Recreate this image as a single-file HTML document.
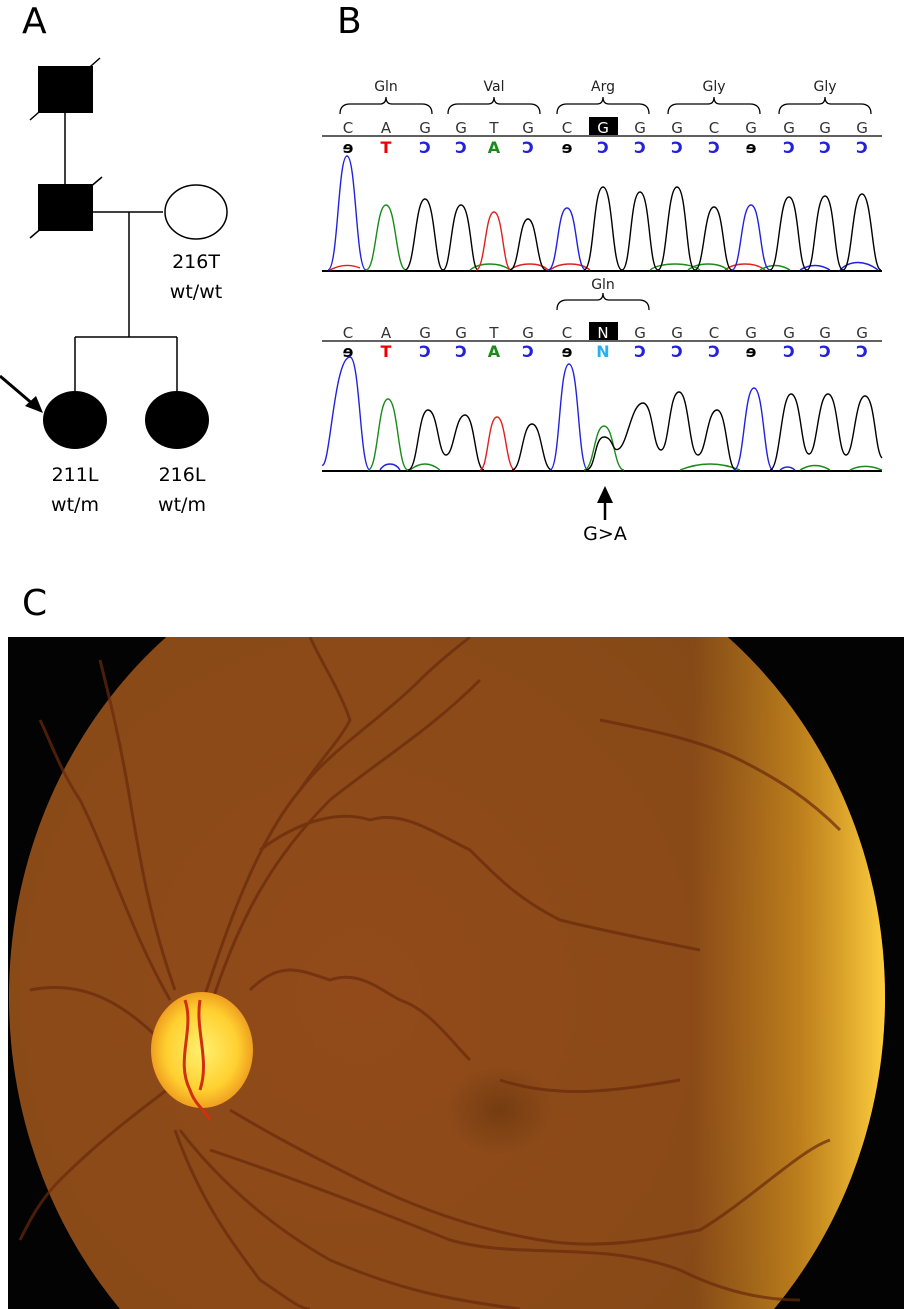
<!DOCTYPE html>
<html><head><meta charset="utf-8"><style>
html,body{margin:0;padding:0;background:#fff;overflow:hidden;width:904px;height:1309px;}
svg{display:block}
text{font-family:"DejaVu Sans","Liberation Sans",sans-serif;}
</style></head><body>
<svg width="904" height="1309" viewBox="0 0 904 1309" xmlns="http://www.w3.org/2000/svg">
<defs>
<radialGradient id="fg" cx="0.4" cy="0.5" r="0.7">
<stop offset="0" stop-color="#924a1a"/>
<stop offset="0.6" stop-color="#8a4a18"/>
<stop offset="1" stop-color="#7a4814"/>
</radialGradient>
<linearGradient id="rim" x1="0" y1="0" x2="1" y2="0">
<stop offset="0.78" stop-color="#d89a20" stop-opacity="0"/>
<stop offset="0.9" stop-color="#e0a020" stop-opacity="0.6"/>
<stop offset="1" stop-color="#ffd040" stop-opacity="1"/>
</linearGradient>
<radialGradient id="disc" cx="0.5" cy="0.5" r="0.5">
<stop offset="0" stop-color="#fff070"/>
<stop offset="0.7" stop-color="#ffd030"/>
<stop offset="1" stop-color="#f0a020"/>
</radialGradient>
<radialGradient id="fov" cx="0.5" cy="0.5" r="0.5">
<stop offset="0" stop-color="#5a3008" stop-opacity="0.5"/>
<stop offset="1" stop-color="#5a3008" stop-opacity="0"/>
</radialGradient>
<clipPath id="cc"><rect x="8" y="637" width="896" height="672"/></clipPath>
</defs>

<text x="22" y="33" font-size="36" font-family="Liberation Sans">A</text>
<text x="337" y="33" font-size="36" font-family="Liberation Sans">B</text>
<text x="22" y="615" font-size="36" font-family="Liberation Sans">C</text>

<g stroke="#000" stroke-width="1.5" fill="none">
<line x1="65" y1="110" x2="65" y2="184"/>
<line x1="92" y1="212" x2="163" y2="212"/>
<line x1="129" y1="212" x2="129" y2="337"/>
<line x1="75" y1="337" x2="177" y2="337"/>
<line x1="75" y1="337" x2="75" y2="391"/>
<line x1="177" y1="337" x2="177" y2="391"/>
<line x1="30" y1="120" x2="100" y2="58"/>
<line x1="30" y1="238" x2="102" y2="177"/>
<ellipse cx="196" cy="212" rx="31" ry="27"/>
</g>
<rect x="38" y="66" width="55" height="47" fill="#000"/>
<rect x="38" y="184" width="55" height="47" fill="#000"/>
<ellipse cx="75" cy="420" rx="32" ry="29" fill="#000"/>
<ellipse cx="177" cy="420" rx="32" ry="29" fill="#000"/>
<line x1="0" y1="376" x2="34" y2="405" stroke="#000" stroke-width="3"/>
<polygon points="43,413 25,406 36,396" fill="#000"/>
<g font-size="19" text-anchor="middle">
<text x="196" y="268">216T</text>
<text x="196" y="298">wt/wt</text>
<text x="75" y="481">211L</text>
<text x="75" y="511">wt/m</text>
<text x="182" y="481">216L</text>
<text x="182" y="511">wt/m</text>
</g>

<g font-size="14" text-anchor="middle" fill="#222">
<text x="386" y="91">Gln</text><text x="494" y="91">Val</text><text x="603" y="91">Arg</text><text x="714" y="91">Gly</text><text x="825" y="91">Gly</text>
</g>
<g stroke="#000" stroke-width="1.3" fill="none">
<path d="M340,114 Q340,104 350,104 L380,104 Q386,104 386,97 Q386,104 392,104 L422,104 Q432,104 432,114"/>
<path d="M448,114 Q448,104 458,104 L488,104 Q494,104 494,97 Q494,104 500,104 L530,104 Q540,104 540,114"/>
<path d="M557,114 Q557,104 567,104 L597,104 Q603,104 603,97 Q603,104 609,104 L639,104 Q649,104 649,114"/>
<path d="M668,114 Q668,104 678,104 L708,104 Q714,104 714,97 Q714,104 720,104 L750,104 Q760,104 760,114"/>
<path d="M779,114 Q779,104 789,104 L819,104 Q825,104 825,97 Q825,104 831,104 L861,104 Q871,104 871,114"/>
<line x1="322" y1="136" x2="882" y2="136"/>
<line x1="322" y1="341" x2="882" y2="341"/>
<path d="M557,310 Q557,300 567,300 L597,300 Q603,300 603,293 Q603,300 609,300 L639,300 Q649,300 649,310"/>
</g>
<rect x="589" y="117" width="29" height="18" fill="#000"/>
<rect x="589" y="322" width="29" height="18" fill="#000"/>
<g font-size="15" text-anchor="middle" fill="#333">
<text x="348" y="133">C</text><text x="386" y="133">A</text><text x="425" y="133">G</text><text x="461" y="133">G</text><text x="494" y="133">T</text><text x="528" y="133">G</text><text x="567" y="133">C</text><text x="603" y="133" fill="#fff">G</text><text x="640" y="133">G</text><text x="677" y="133">G</text><text x="714" y="133">C</text><text x="751" y="133">G</text><text x="789" y="133">G</text><text x="825" y="133">G</text><text x="862" y="133">G</text>
<text x="603" y="289" fill="#222" font-size="14">Gln</text>
<text x="348" y="338">C</text><text x="386" y="338">A</text><text x="425" y="338">G</text><text x="461" y="338">G</text><text x="494" y="338">T</text><text x="528" y="338">G</text><text x="567" y="338">C</text><text x="603" y="338" fill="#fff">N</text><text x="640" y="338">G</text><text x="677" y="338">G</text><text x="714" y="338">C</text><text x="751" y="338">G</text><text x="789" y="338">G</text><text x="825" y="338">G</text><text x="862" y="338">G</text>
</g>
<g font-size="16" font-weight="bold" text-anchor="middle">
<text x="348" y="153" fill="#000">ɘ</text><text x="386" y="153" fill="#e00">T</text><text x="425" y="153" fill="#22d">Ɔ</text><text x="461" y="153" fill="#22d">Ɔ</text><text x="494" y="153" fill="#1a8a1a">A</text><text x="528" y="153" fill="#22d">Ɔ</text><text x="567" y="153" fill="#000">ɘ</text><text x="603" y="153" fill="#22d">Ɔ</text><text x="640" y="153" fill="#22d">Ɔ</text><text x="677" y="153" fill="#22d">Ɔ</text><text x="714" y="153" fill="#22d">Ɔ</text><text x="751" y="153" fill="#000">ɘ</text><text x="789" y="153" fill="#22d">Ɔ</text><text x="825" y="153" fill="#22d">Ɔ</text><text x="862" y="153" fill="#22d">Ɔ</text>
<text x="348" y="357" fill="#000">ɘ</text><text x="386" y="357" fill="#e00">T</text><text x="425" y="357" fill="#22d">Ɔ</text><text x="461" y="357" fill="#22d">Ɔ</text><text x="494" y="357" fill="#1a8a1a">A</text><text x="528" y="357" fill="#22d">Ɔ</text><text x="567" y="357" fill="#000">ɘ</text><text x="603" y="357" fill="#2ab0f0">N</text><text x="640" y="357" fill="#22d">Ɔ</text><text x="677" y="357" fill="#22d">Ɔ</text><text x="714" y="357" fill="#22d">Ɔ</text><text x="751" y="357" fill="#000">ɘ</text><text x="789" y="357" fill="#22d">Ɔ</text><text x="825" y="357" fill="#22d">Ɔ</text><text x="862" y="357" fill="#22d">Ɔ</text>
</g>

<g fill="none" stroke-width="1.4">
<line x1="322" y1="271" x2="882" y2="271" stroke="#000" stroke-width="2"/>
<path stroke="#e02020" d="M330,270 Q345,262 360,268 M510,270 C520,262 540,262 548,270 M550,270 C560,262 580,262 590,270 M725,270 C735,262 755,262 765,270"/>
<path stroke="#1a8a1a" d="M470,270 C480,262 500,262 510,270 M650,270 C660,262 690,262 700,270 M688,270 C698,262 718,262 728,270 M760,270 C770,264 780,264 790,270"/>
<path stroke="#22d" d="M800,270 C810,264 820,264 830,270 M840,270 C850,260 865,260 878,270"/>
<path stroke="#22d" d="M328,270 C338,270 338,156 347,156 C356,156 356,270 366,270"/>
<path stroke="#1a8a1a" d="M366,270 C376,270 376,205 386,205 C396,205 396,270 406,270"/>
<path stroke="#000" d="M405,270 C415,270 415,199 425,199 C435,199 435,270 443,270 C451,270 451,205 461,205 C471,205 471,270 478,270"/>
<path stroke="#e02020" d="M476,270 C485,270 485,212 494,212 C503,212 503,270 511,270"/>
<path stroke="#000" d="M510,270 C519,270 519,219 528,219 C537,219 537,270 546,270"/>
<path stroke="#22d" d="M548,270 C558,270 557,208 567,208 C577,208 576,270 586,270"/>
<path stroke="#000" d="M584,270 C594,270 593,187 603,187 C613,187 612,270 622,270 C631,270 630,192 640,192 C650,192 649,270 658,270 C667,270 667,187 677,187 C687,187 686,270 695,270 C704,270 704,207 714,207 C724,207 723,270 732,270"/>
<path stroke="#22d" d="M732,270 C741,270 741,205 751,205 C761,205 760,270 770,270"/>
<path stroke="#000" d="M770,270 C779,270 779,197 789,197 C799,197 798,270 807,270 C815,270 815,196 825,196 C835,196 834,270 843,270 C852,270 852,194 862,194 C872,194 872,270 881,270"/>
</g>

<g fill="none" stroke-width="1.4">
<line x1="322" y1="471" x2="882" y2="471" stroke="#000" stroke-width="2"/>
<path stroke="#1a8a1a" d="M410,470 C420,462 430,462 440,470 M680,470 C700,462 720,462 740,470 M800,470 C810,464 820,464 830,470 M850,470 C860,465 870,465 882,470"/>
<path stroke="#22d" d="M380,470 C385,462 395,462 400,470 M780,470 C785,466 790,466 795,470"/>
<path stroke="#22d" d="M322,465 C330,470 334,357 350,357 C360,357 360,470 370,470"/>
<path stroke="#1a8a1a" d="M368,470 C378,470 378,399 388,399 C398,399 398,470 408,470"/>
<path stroke="#000" d="M408,470 C418,470 418,410 428,410 C438,410 438,455 446,455 C454,455 455,415 465,415 C475,415 475,470 484,470"/>
<path stroke="#e02020" d="M480,470 C488,470 488,417 497,417 C506,417 506,470 515,470"/>
<path stroke="#000" d="M512,470 C522,470 522,424 532,424 C542,424 542,470 552,470"/>
<path stroke="#22d" d="M550,470 C560,470 559,364 569,364 C579,364 578,470 588,470"/>
<path stroke="#1a8a1a" d="M584,470 C594,470 594,426 604,426 C614,426 614,470 624,470"/>
<path stroke="#000" d="M586,470 C596,470 594,437 604,437 C614,437 612,455 620,448 C628,440 632,403 643,403 C653,403 653,450 661,450 C669,450 669,392 679,392 C689,392 689,455 698,455 C706,455 707,410 717,410 C727,410 727,470 736,470"/>
<path stroke="#22d" d="M734,470 C744,470 744,388 754,388 C764,388 764,470 773,470"/>
<path stroke="#000" d="M770,470 C780,470 781,394 791,394 C801,394 801,454 809,454 C817,454 818,394 828,394 C838,394 838,455 846,455 C854,455 855,396 865,396 C875,396 875,452 882,458"/>
</g>
<line x1="605" y1="520" x2="605" y2="500" stroke="#000" stroke-width="2.5"/>
<polygon points="605,486 597,503 613,503" fill="#000"/>
<text x="605" y="540" font-size="19" text-anchor="middle">G&gt;A</text>

<rect x="8" y="637" width="896" height="672" fill="#030303"/>
<g clip-path="url(#cc)">
<ellipse cx="447" cy="997" rx="438" ry="469" fill="url(#fg)"/>
<ellipse cx="447" cy="997" rx="438" ry="469" fill="url(#rim)"/>
<polygon points="755,637 775,650 800,660 800,690 790,700 760,637" fill="#030303"/>
<ellipse cx="500" cy="1110" rx="55" ry="45" fill="url(#fov)"/>
<g fill="none" stroke="#6a2a0c" stroke-width="3" opacity="0.7">
<path d="M190,1040 C220,950 250,850 300,790 C330,750 380,720 420,680 C440,660 460,645 470,637"/>
<path d="M200,1040 C230,940 260,870 330,800 C380,760 430,730 480,680"/>
<path d="M300,790 C320,760 340,740 350,720 C340,690 320,660 310,637"/>
<path d="M260,850 C300,820 340,810 370,820 C400,810 430,830 470,850 C500,880 520,900 560,920 C600,930 650,940 700,950"/>
<path d="M250,990 C280,960 300,970 330,980 C360,970 380,990 400,1000 C430,1010 450,1040 470,1060"/>
<path d="M175,1130 C200,1200 230,1240 260,1280 C290,1300 300,1309 310,1309"/>
<path d="M180,1130 C210,1170 260,1220 330,1260 C400,1290 450,1300 520,1309"/>
<path d="M210,1150 C300,1180 400,1220 450,1240 C520,1260 600,1240 680,1270 C720,1290 760,1300 800,1300"/>
<path d="M230,1110 C280,1140 320,1160 360,1180 C420,1210 480,1230 540,1240 C600,1250 650,1240 700,1230 C750,1200 800,1150 830,1140"/>
<path d="M180,1080 C140,1110 100,1140 60,1180 C40,1200 30,1220 20,1240"/>
<path d="M160,1040 C120,1000 80,980 30,990"/>
<path d="M170,1000 C130,930 110,860 80,800 C60,770 50,740 40,720"/>
<path d="M175,990 C150,920 140,860 130,800 C120,740 110,700 100,660"/>
<path d="M600,720 C650,730 700,740 740,760 C780,780 810,800 840,830"/>
<path d="M500,1080 C560,1100 620,1090 680,1080"/>
</g>
<ellipse cx="202" cy="1050" rx="51" ry="58" fill="url(#disc)"/>
<g fill="none" stroke="#d03010" stroke-width="3">
<path d="M185,1000 C195,1030 175,1060 190,1090 C195,1105 205,1110 210,1120"/>
<path d="M200,1000 C195,1030 210,1060 200,1090"/>
</g>
</g>
</svg>
</body></html>
